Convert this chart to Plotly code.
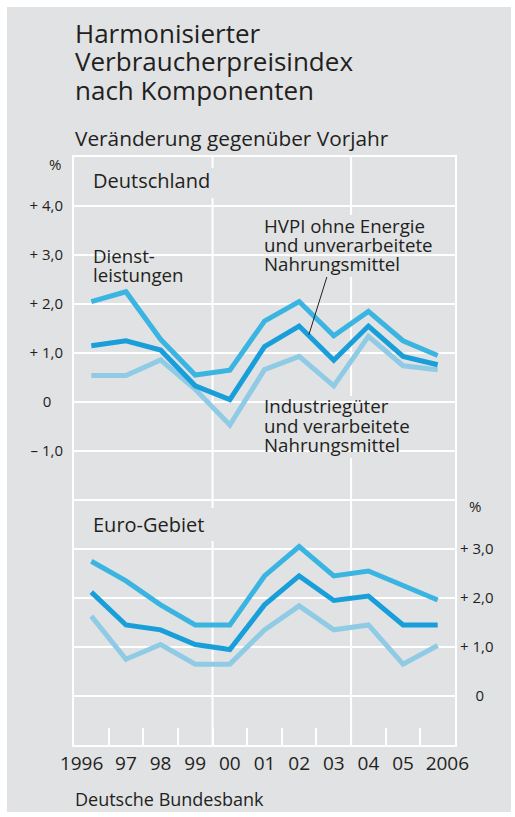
import plotly.graph_objects as go

# ---------------- data ----------------
years = [1996, 1997, 1998, 1999, 2000, 2001, 2002, 2003, 2004, 2005, 2006]
year_labels = ["1996", "97", "98", "99", "00", "01", "02", "03", "04", "05", "2006"]

# Deutschland (left axis)
de_dienst = [2.05, 2.25, 1.28, 0.55, 0.65, 1.65, 2.05, 1.35, 1.85, 1.25, 0.95]
de_kern = [1.15, 1.25, 1.06, 0.33, 0.05, 1.13, 1.55, 0.85, 1.55, 0.93, 0.76]
de_ind = [0.54, 0.54, 0.86, 0.26, -0.47, 0.66, 0.93, 0.33, 1.34, 0.74, 0.66]

# Euro-Gebiet (right axis)
ez_dienst = [2.75, 2.35, 1.86, 1.45, 1.45, 2.45, 3.05, 2.45, 2.55, 2.25, 1.96]
ez_kern = [2.12, 1.45, 1.35, 1.05, 0.95, 1.86, 2.45, 1.95, 2.04, 1.45, 1.45]
ez_ind = [1.63, 0.75, 1.05, 0.65, 0.65, 1.35, 1.84, 1.35, 1.45, 0.65, 1.03]

left_tickvals = [-7, -6, -5, -4, -3, -2, -1, 0, 1, 2, 3, 4, 5]
left_ticktext = ["", "", "", "", "", "", "\u2013 1,0", "0\u00a0\u00a0\u00a0",
                 "+ 1,0", "+ 2,0", "+ 3,0", "+ 4,0", ""]
right_tickvals = [0, 1, 2, 3]
right_ticktext = ["\u00a0\u00a0\u00a0\u00a00", "+ 1,0", "+ 2,0", "+ 3,0"]

year_bounds = [1996.5, 1997.5, 1998.5, 1999.5, 2000.5, 2001.5, 2002.5, 2003.5, 2004.5, 2005.5]
major_bounds = [1999.5, 2003.5]

# ---------------- style ----------------
W, H = 515, 817
BG = "#e1e2e4"
TXT = "#231f20"
FONT = "Open Sans"
C_DIENST = "#3ab4e0"
C_KERN = "#189fda"
C_IND = "#8fcbe5"
LW = 5

# year label positions: outer (4-digit) labels nudged outwards as in the original
label_pos = list(years)
label_pos[0] -= 0.28
label_pos[-1] += 0.28


def px(x):
    return x / W


def py(y):
    return 1 - y / H


x_dom = [px(74), px(455)]
y_dom = [py(745), py(157)]

fig = go.Figure()

series = [
    (de_ind, C_IND, "y", "Industriegüter und verarbeitete Nahrungsmittel (D)"),
    (de_dienst, C_DIENST, "y", "Dienstleistungen (D)"),
    (de_kern, C_KERN, "y", "HVPI ohne Energie und unverarbeitete Nahrungsmittel (D)"),
    (ez_ind, C_IND, "y2", "Industriegüter und verarbeitete Nahrungsmittel (EWU)"),
    (ez_dienst, C_DIENST, "y2", "Dienstleistungen (EWU)"),
    (ez_kern, C_KERN, "y2", "HVPI ohne Energie und unverarbeitete Nahrungsmittel (EWU)"),
]
for vals, col, ax, name in series:
    fig.add_trace(go.Scatter(x=years, y=vals, mode="lines", yaxis=ax, name=name,
                             line=dict(color=col, width=LW), hoverinfo="skip"))

shapes = [
    dict(type="rect", xref="paper", yref="paper", x0=px(7), x1=px(511), y0=py(812), y1=py(7),
         fillcolor=BG, line=dict(width=0), layer="below"),
]
for b in major_bounds:
    shapes.append(dict(type="line", xref="x", yref="paper", x0=b, x1=b, y0=y_dom[0], y1=y_dom[1],
                       line=dict(color="white", width=2), layer="below"))

# background boxes behind the in-plot labels (hide the grid behind the text)
label_boxes = [
    (91, 215, 168, 198),   # Deutschland
    (91, 215, 508, 541),   # Euro-Gebiet
    (91, 188, 247, 287),   # Dienstleistungen
    (261, 438, 215, 277),  # HVPI ohne Energie ...
    (261, 410, 396, 458),  # Industriegüter ...
]
for x0, x1, y0, y1 in label_boxes:
    shapes.append(dict(type="rect", xref="paper", yref="paper",
                       x0=px(x0), x1=px(x1), y0=py(y1), y1=py(y0),
                       fillcolor=BG, line=dict(width=0), layer="between"))

# leader line for HVPI label
shapes.append(dict(type="line", xref="x", yref="y", x0=2002.28, y0=1.37, x1=2002.8, y1=2.55,
                   line=dict(color=TXT, width=1)))

annotations = []


def label(text, x, baseline, size, xanchor="left"):
    annotations.append(dict(
        text=text, xref="paper", yref="paper", x=px(x), y=py(baseline - 0.388 * size),
        xanchor=xanchor, yanchor="middle", showarrow=False, borderpad=0,
        font=dict(family=FONT, size=size, color=TXT)))


# title block
label("Harmonisierter", 74, 43, 26)
label("Verbraucherpreisindex", 74, 71.5, 26)
label("nach Komponenten", 74, 100, 26)
label("Veränderung gegenüber Vorjahr", 74, 146.5, 20.8)
label("Deutsche Bundesbank", 74, 806, 18)

# % signs
label("%", 55, 170, 15, xanchor="center")
label("%", 475, 512, 15, xanchor="center")

# panel labels
label("Deutschland", 92, 188, 20)
label("Euro-Gebiet", 92, 532, 20)

# series labels
SL = 18.7
label("Dienst-", 92, 263, SL)
label("leistungen", 92, 281.5, SL)
label("HVPI ohne Energie", 263, 232.5, SL)
label("und unverarbeitete", 263, 251.5, SL)
label("Nahrungsmittel", 263, 271, SL)
label("Industriegüter", 263, 413, SL)
label("und verarbeitete", 263, 432.5, SL)
label("Nahrungsmittel", 263, 452, SL)

fig.update_layout(
    width=W, height=H,
    margin=dict(l=0, r=0, t=0, b=0, autoexpand=False),
    paper_bgcolor="white",
    plot_bgcolor="rgba(0,0,0,0)",
    showlegend=False,
    font=dict(family=FONT, color=TXT),
    shapes=shapes,
    annotations=annotations,
    xaxis=dict(
        domain=x_dom, range=[1995.5, 2006.5], fixedrange=True, automargin=False,
        tickmode="array", tickvals=label_pos, ticktext=year_labels, ticks="",
        tickfont=dict(family=FONT, size=19, color=TXT),
        showgrid=False, zeroline=False,
        showline=True, mirror=True, linecolor="white", linewidth=2,
        minor=dict(tickmode="array", tickvals=year_bounds, ticks="inside", ticklen=17,
                   tickwidth=2, tickcolor="white", showgrid=False),
    ),
    yaxis=dict(
        domain=y_dom, range=[-7, 5], fixedrange=True, automargin=False,
        tickmode="array", tickvals=left_tickvals, ticktext=left_ticktext, ticks="",
        tickfont=dict(family=FONT, size=15, color=TXT), ticklabelstandoff=6,
        showgrid=True, gridcolor="white", gridwidth=2, zeroline=False,
        showline=True, mirror=True, linecolor="white", linewidth=2,
    ),
    yaxis2=dict(
        overlaying="y", side="right", anchor="x", range=[-1, 11], fixedrange=True,
        automargin=False, ticklabelstandoff=4,
        tickmode="array", tickvals=right_tickvals, ticktext=right_ticktext, ticks="",
        tickfont=dict(family=FONT, size=15, color=TXT),
        showgrid=False, zeroline=False, showline=False,
    ),
)

fig.write_html("out.html",
               config={"displayModeBar": False},
               post_script="document.body.style.margin='0';document.body.style.overflow='hidden';")
